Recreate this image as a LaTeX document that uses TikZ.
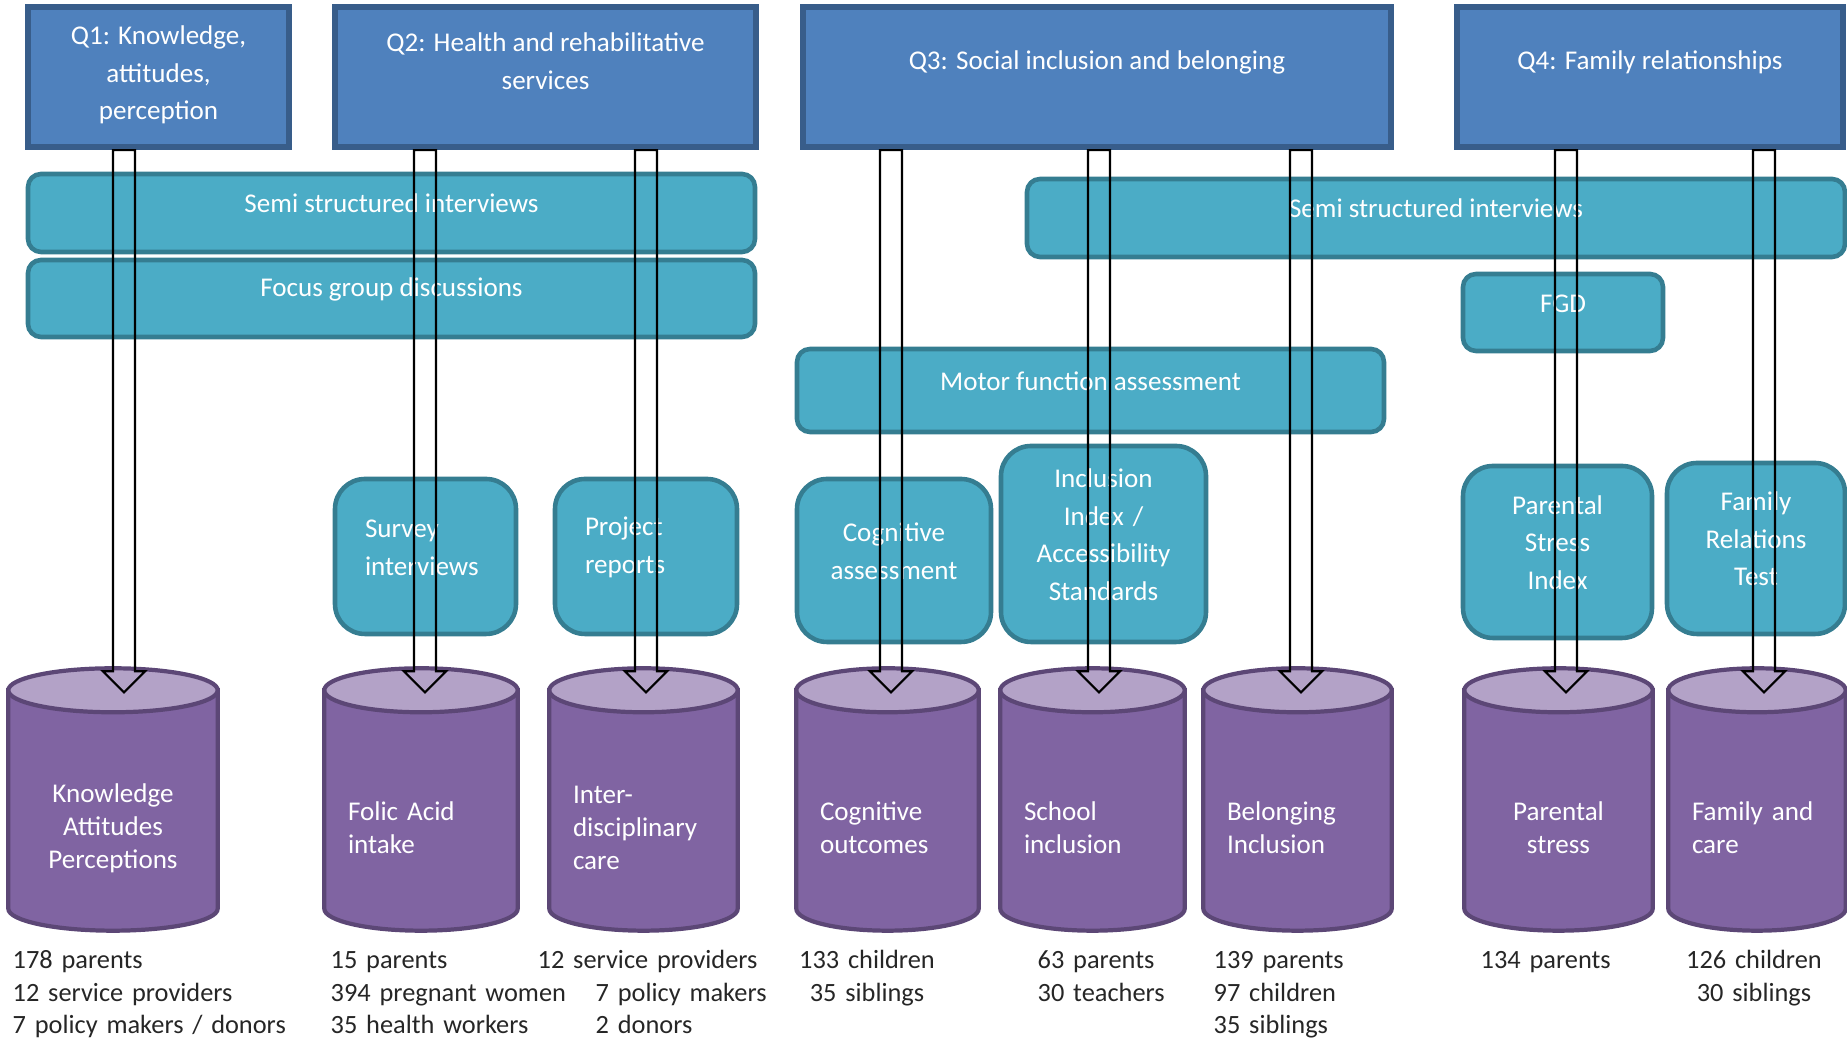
\documentclass[tikz,border=0pt]{standalone}
\usepackage{fontspec}
\setmainfont{Carlito}
\usetikzlibrary{calc, backgrounds}

\definecolor{qfill}{HTML}{4F81BD}
\definecolor{qline}{HTML}{385D8A}
\definecolor{mfill}{HTML}{4BACC6}
\definecolor{mline}{HTML}{357D91}
\definecolor{dside}{HTML}{8064A2}
\definecolor{dlid}{HTML}{B3A2C7}
\definecolor{dline}{HTML}{5C4776}
\definecolor{ctext}{HTML}{262626}

\begin{document}
\begin{tikzpicture}[
  qbox/.style={draw=qline, line width=1.8pt, fill=qfill, minimum height=1.4cm, inner sep=0pt},
  qtitle/.style={text=white, align=center, font=\fontsize{7.7}{10.7}\selectfont},
  method/.style={draw=mline, line width=1.3pt, fill=mfill, rounded corners=1.3mm, text=white,
    align=center, inner sep=0pt, text height=0pt, font=\fontsize{7.7}{10.7}\selectfont},
  tall/.style={method, rounded corners=3mm, minimum width=#1, text width=#1-6mm, inner xsep=3mm},
  drum/.style={minimum width=#1, text width=#1-4.6mm, minimum height=2.04cm, inner xsep=2.3mm,
    inner ysep=0pt, text=white, font=\fontsize{7.7}{9.4}\selectfont},
  count/.style={anchor=base west, text width=3cm, inner sep=0pt, align=left, text=ctext,
    font=\fontsize{7.5}{9.2}\selectfont},
  hollow/.style={draw, line width=0.6pt, to path={let \p1=(\tikztostart), \p2=(\tikztotarget) in
    (\x2-1.1mm,\y1) -- (\x2-1.1mm,\y2+2.1mm) -- (\x2-2.1mm,\y2+2.1mm) -- (\x2,\y2)
    -- (\x2+2.1mm,\y2+2.1mm) -- (\x2+1.1mm,\y2+2.1mm) -- (\x2+1.1mm,\y1) -- cycle}}]
\useasboundingbox (0,0) rectangle (18.47,10.40);

% research questions
\node[qbox, minimum width=2.61cm] (q1) at (1.585,9.63) {};
\node[qbox, minimum width=4.21cm] (q2) at (5.455,9.63) {};
\node[qbox, minimum width=5.88cm] (q3) at (10.97,9.63) {};
\node[qbox, minimum width=3.86cm] (q4) at (16.50,9.63) {};
\node[qtitle] (q1t) at ([yshift=0.2mm]q1) {Q1: Knowledge,\\attitudes,\\perception};
\node[qtitle] (q2t) at ([yshift=1.6mm]q2) {Q2: Health and rehabilitative\\services};
\node[qtitle] (q3t) at ([yshift=1.5mm]q3) {Q3: Social inclusion and belonging};
\node[qtitle] (q4t) at ([yshift=1.5mm]q4) {Q4: Family relationships};

% methods
\node[method, minimum width=7.27cm, minimum height=0.78cm] (ssi1) at (3.915,8.27) {Semi structured interviews};
\node[method, minimum width=7.27cm, minimum height=0.77cm] (fgd1) at (3.915,7.415) {Focus group discussions};
\node[method, minimum width=8.18cm, minimum height=0.78cm] (ssi2) at (14.36,8.22) {Semi structured interviews};
\node[method, minimum width=2.00cm, minimum height=0.77cm] (fgd2) at (15.63,7.275) {FGD};
\node[method, minimum width=5.87cm, minimum height=0.83cm] (mfa) at (10.905,6.495) {Motor function assessment};
\node[tall=1.81cm, minimum height=1.55cm, align=left] (svy) at (4.255,4.835) {Survey\\interviews};
\node[tall=1.82cm, minimum height=1.55cm, align=left] (prj) at (6.46,4.835) {Project\\reports};
\node[tall=1.94cm, minimum height=1.63cm] (cga) at (8.94,4.795) {Cognitive\\assessment};
\node[tall=2.05cm, minimum height=1.96cm] (iia) at (11.035,4.96) {Inclusion\\Index /\\Accessibility\\Standards};
\node[tall=1.89cm, minimum height=1.72cm] (psi) at (15.575,4.88) {Parental\\Stress\\Index};
\node[tall=1.78cm, minimum height=1.71cm] (frt) at (17.56,4.915) {Family\\Relations\\Test};

% outcomes
\node[drum=2.08cm, align=center] (kap) at (1.13,2.12) {Knowledge\\Attitudes\\Perceptions};
\node[drum=1.92cm, align=left] (fol) at (4.21,2.12) {Folic Acid\\intake};
\node[drum=1.87cm, align=left] (idc) at (6.435,2.12) {Inter-\\disciplinary\\care};
\node[drum=1.81cm, align=left] (cog) at (8.875,2.12) {Cognitive\\outcomes};
\node[drum=1.83cm, align=left] (sch) at (10.925,2.12) {School\\inclusion};
\node[drum=1.87cm, align=left] (bel) at (12.975,2.12) {Belonging\\Inclusion};
\node[drum=1.87cm, align=center] (pst) at (15.585,2.12) {Parental\\stress};
\node[drum=1.76cm, align=left] (fam) at (17.57,2.12) {Family and\\care};

\begin{scope}[on background layer]
\foreach \cyl in {kap,fol,idc,cog,sch,bel,pst,fam}{
  \draw[draw=dline, line width=1.2pt, fill=dside]
    let \p1=(\cyl.north west), \p2=(\cyl.south east) in
    (\x1,\y1+3.5mm) -- (\x1,\y2+2.2mm)
    arc[start angle=180, end angle=360, x radius={(\x2-\x1)/2}, y radius=2.2mm]
    -- (\x2,\y1+3.5mm) -- cycle;
  \draw[draw=dline, line width=1.2pt, fill=dlid]
    let \p1=(\cyl.north west), \p2=(\cyl.north east) in
    ([yshift=3.5mm]\cyl.north) ellipse [x radius={(\x2-\x1)/2}, y radius=2.2mm];
}
\end{scope}

% sample sizes
\node[count] (n1) at (0.12,0.71) {178 parents\\12 service providers\\7 policy makers / donors};
\node[count] (n2) at (3.30,0.71) {15 parents\\394 pregnant women\\35 health workers};
\node[count] (n3) at (5.37,0.71) {12 service providers\\\hspace*{5.8mm}7 policy makers\\\hspace*{5.8mm}2 donors};
\node[count, anchor=base, align=center] (n4) at (8.67,0.71) {133 children\\35 siblings};
\node[count] (n5) at (10.37,0.71) {63 parents\\30 teachers};
\node[count] (n6) at (12.13,0.71) {139 parents\\97 children\\35 siblings};
\node[count] (n7) at (14.80,0.71) {134 parents};
\node[count, anchor=base, align=center] (n8) at (17.54,0.71) {126 children\\30 siblings};

% arrows from each question down to its outcomes
\foreach \q/\cyl/\dx in {q1/kap/1.1mm, q2/fol/0.4mm, q2/idc/0.25mm, q3/cog/0.35mm,
    q3/sch/0.65mm, q3/bel/0.35mm, q4/pst/0.75mm, q4/fam/0.7mm}
  \draw[hollow] (\q.south) to ([shift={(\dx,3.3mm)}]\cyl.north);
\end{tikzpicture}
\end{document}
